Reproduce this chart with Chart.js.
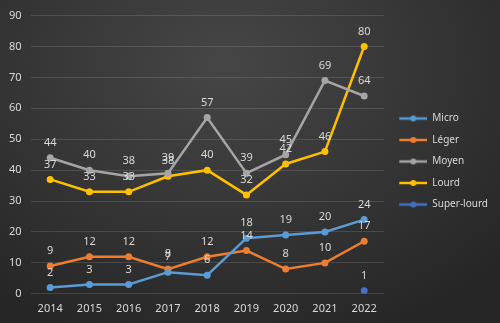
<!DOCTYPE html>
<html>
<head>
<meta charset="utf-8">
<script src="https://cdn.jsdelivr.net/npm/chart.js@4"></script>
<style>
  html, body { margin: 0; padding: 0; }
  body {
    width: 500px; height: 323px; overflow: hidden;
    background: radial-gradient(ellipse 75% 90% at 45% 20%, #464646 0%, #383838 45%, #262626 100%);
  }
</style>
</head>
<body>
<canvas id="chart" width="500" height="323"></canvas>
<script>
// données
const years = ['2014', '2015', '2016', '2017', '2018', '2019', '2020', '2021', '2022'];
const micro = [2, 3, 3, 7, 6, 18, 19, 20, 24];
const leger = [9, 12, 12, 8, 12, 14, 8, 10, 17];
const moyen = [44, 40, 38, 39, 57, 39, 45, 69, 64];
const lourd = [37, 33, 33, 38, 40, 32, 42, 46, 80];
const superLourd = [null, null, null, null, null, null, null, null, 1];

const seriesNames = ['Micro', 'Léger', 'Moyen', 'Lourd', 'Super-lourd'];
const seriesColors = ['#5b9bd5', '#ed7d31', '#a5a5a5', '#ffc000', '#4472c4'];
const textColor = '#d9d9d9';

// marqueur de légende (trait + point), avec une marge transparente à gauche
const markerGap = 4;
function legendMarker(color) {
    const c = document.createElement('canvas');
    c.width = 28 + markerGap; c.height = 8;
    const ctx = c.getContext('2d');
    ctx.strokeStyle = color;
    ctx.lineWidth = 2.5;
    ctx.beginPath();
    ctx.moveTo(markerGap, 4); ctx.lineTo(markerGap + 28, 4);
    ctx.stroke();
    ctx.fillStyle = color;
    ctx.beginPath();
    ctx.arc(markerGap + 14, 4, 3, 0, Math.PI * 2);
    ctx.fill();
    return c;
}

// étiquettes de valeurs au-dessus des points
const valueLabels = {
    id: 'valueLabels',
    afterDatasetsDraw(chart) {
        const ctx = chart.ctx;
        ctx.save();
        ctx.font = '11px "Noto Sans", sans-serif';
        ctx.fillStyle = textColor;
        ctx.textAlign = 'center';
        ctx.textBaseline = 'middle';
        chart.data.datasets.forEach((ds, i) => {
            chart.getDatasetMeta(i).data.forEach((pt, j) => {
                const v = ds.data[j];
                if (v === null) return;
                ctx.fillText(String(v), pt.x, pt.y - 15);
            });
        });
        ctx.restore();
    }
};

const allSeries = [micro, leger, moyen, lourd, superLourd];

new Chart(document.getElementById('chart'), {
    type: 'line',
    data: {
        labels: years,
        datasets: allSeries.map((d, i) => ({
            label: seriesNames[i],
            data: d,
            borderColor: seriesColors[i],
            backgroundColor: seriesColors[i],
            borderWidth: 2.5,
            pointRadius: 3.5,
            pointHoverRadius: 3.5,
            pointBorderWidth: 0,
            tension: 0
        }))
    },
    options: {
        responsive: false,
        animation: false,
        devicePixelRatio: 1,
        layout: { padding: { left: 0, right: 2, top: 8, bottom: 8 } },
        scales: {
            x: {
                offset: true,
                grid: { display: false },
                border: { display: false },
                ticks: { color: textColor, font: { family: 'Noto Sans', size: 11 }, padding: 0 }
            },
            y: {
                min: 0,
                max: 90,
                ticks: { stepSize: 10, color: textColor, font: { family: 'Noto Sans', size: 11 }, padding: 9 },
                grid: { color: 'rgba(255,255,255,0.12)', drawTicks: false },
                border: { display: false }
            }
        },
        plugins: {
            tooltip: { enabled: false },
            legend: {
                position: 'right',
                labels: {
                    color: textColor,
                    font: { family: 'Noto Sans', size: 10 },
                    usePointStyle: true,
                    pointStyleWidth: 28 + markerGap,
                    padding: 11.5,
                    generateLabels(chart) {
                        return chart.data.datasets.map((ds, i) => ({
                            text: ds.label,
                            fontColor: textColor,
                            pointStyle: legendMarker(seriesColors[i]),
                            datasetIndex: i,
                            lineWidth: 0,
                            hidden: false
                        }));
                    }
                }
            }
        }
    },
    plugins: [valueLabels]
});
</script>
</body>
</html>
